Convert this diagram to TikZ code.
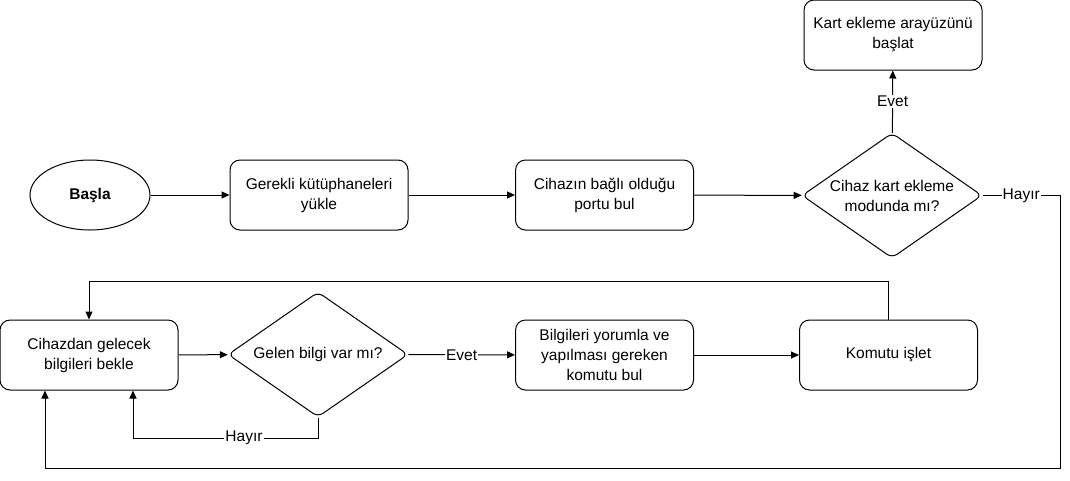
\documentclass[tikz,border=0pt]{standalone}
\usepackage{fontspec}
\setmainfont{Liberation Sans}
\usetikzlibrary{shapes.geometric,arrows.meta}
\begin{document}
\begin{tikzpicture}[x=1pt,y=-1pt,
 every node/.style={font=\fontsize{15.5}{20}\selectfont},
 box/.style={draw,rounded corners=10pt,minimum width=178pt,minimum height=70pt,align=center,line width=1pt,inner sep=0pt},
 dec/.style={draw,diamond,aspect=1.44,minimum width=180pt,minimum height=125pt,align=center,inner sep=0pt,rounded corners=6pt,line width=1pt},
 term/.style={draw,ellipse,minimum width=120pt,minimum height=70pt,line width=1pt,font=\fontsize{15.5}{20}\selectfont\bfseries},
 arr/.style={-{Triangle[length=8pt,width=7pt]},line width=1pt},
 lbl/.style={fill=white,inner sep=1pt}
]
\useasboundingbox (0,0) rectangle (1070,480);
\node[term] (start) at (90,195) {Başla};
\node[box] (lib) at (319,195) {Gerekli kütüphaneleri\\yükle};
\node[box] (port) at (604.5,195) {Cihazın bağlı olduğu\\portu bul};
\node[dec] (d1) at (892,195.5) {Cihaz kart ekleme\\modunda mı?};
\node[box] (kart) at (893,35) {Kart ekleme arayüzünü\\başlat};
\node[box] (wait) at (89,355) {Cihazdan gelecek\\bilgileri bekle};
\node[dec] (d2) at (318,354.5) {Gelen bilgi var mı?};
\node[box] (info) at (604.5,355) {Bilgileri yorumla ve\\yapılması gereken\\komutu bul};
\node[box] (cmd) at (888.5,355) {Komutu işlet};
\coordinate (c1) at (1060,195.5);
\coordinate (c2) at (1060,468);
\coordinate (c3) at (45,468);
\coordinate (c4) at (888.5,281);
\coordinate (c5) at (318,438);
\coordinate (c6) at (133,438);
\draw[arr] (start) -- (lib);
\draw[arr] (lib) -- (port);
\draw[arr] (port) -- (d1);
\draw[arr] (d1) -- node[lbl]{Evet} (kart);
\draw[arr] (d1.east) -- node[lbl]{Hayır} (c1) -- (c2) -- (c3) -- (c3 |- wait.south);
\draw[arr] (wait) -- (d2);
\draw[arr] (d2) -- node[lbl]{Evet} (info);
\draw[arr] (info) -- (cmd);
\draw[arr] (cmd.north) -- (c4) -| (wait.north);
\draw[arr] (d2.south) -- (c5) -- node[lbl,pos=0.4]{Hayır} (c6) -- (c6 |- wait.south);
\end{tikzpicture}
\end{document}
